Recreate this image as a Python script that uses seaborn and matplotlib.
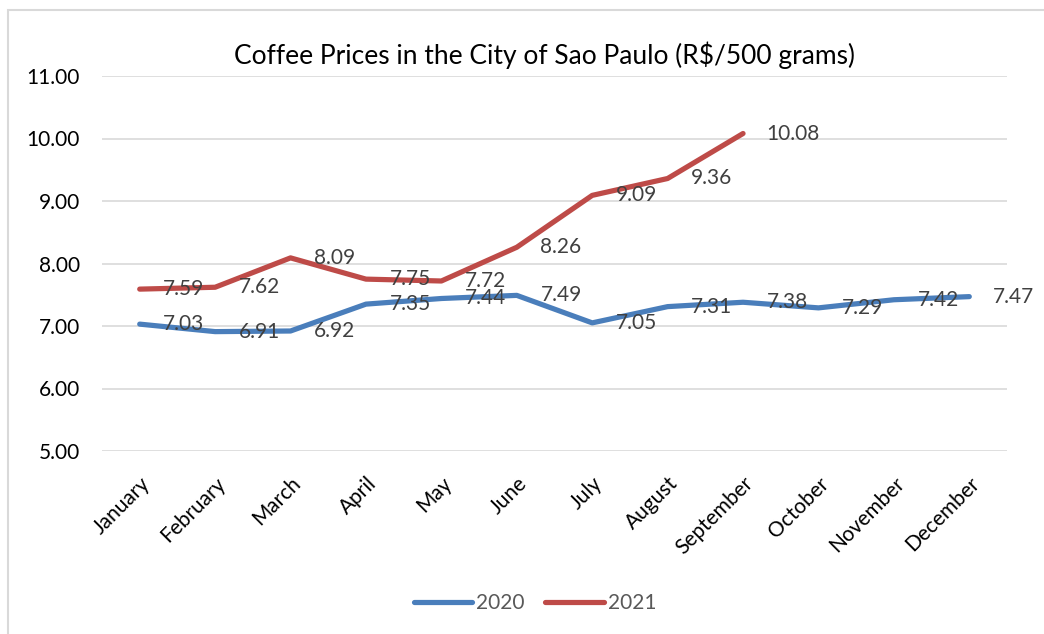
import pandas as pd
import matplotlib.pyplot as plt
import seaborn as sns
from matplotlib.patches import Rectangle

# values
months = ["January", "February", "March", "April", "May", "June", "July",
          "August", "September", "October", "November", "December"]
prices_2020 = [7.03, 6.91, 6.92, 7.35, 7.44, 7.49, 7.05, 7.31, 7.38, 7.29, 7.42, 7.47]
prices_2021 = [7.59, 7.62, 8.09, 7.75, 7.72, 8.26, 9.09, 9.36, 10.08]
years = ["2020", "2021"]
colors = {"2020": "#4A7EBB", "2021": "#BE4B48"}

df = pd.concat([
    pd.DataFrame({"month": months, "price": prices_2020, "year": "2020"}),
    pd.DataFrame({"month": months[:len(prices_2021)], "price": prices_2021, "year": "2021"}),
], ignore_index=True)

sns.set_style("white")
plt.rcParams["font.family"] = ["Lato", "DejaVu Sans"]

W, H = 1044, 634
fig = plt.figure(figsize=(W / 100, H / 100), dpi=100)
ax = fig.add_axes([102 / W, 1 - 451 / H, (1007 - 102) / W, (451 - 76) / H])

sns.lineplot(data=df, x="month", y="price", hue="year", palette=colors,
             sort=False, linewidth=3.75, solid_capstyle="round", legend=False, ax=ax)

# data labels to the right of each point
for _, row in df.iterrows():
    ax.annotate(f"{row.price:.2f}", (row.month, row.price), xytext=(17, 0),
                textcoords="offset points", ha="left", va="center",
                fontsize=15, color="#404040")

ax.set_xlim(-0.5, len(months) - 0.5)
ax.set_ylim(5, 11)
ax.set_yticks([5, 6, 7, 8, 9, 10, 11])
ax.set_yticklabels([f"{v:.2f}" for v in [5, 6, 7, 8, 9, 10, 11]])
ax.yaxis.grid(True, color="#D9D9D9", linewidth=1.2)
ax.set_axisbelow(True)
for s in ax.spines.values():
    s.set_visible(False)
ax.set_xlabel("")
ax.set_ylabel("")
ax.tick_params(axis="y", length=0, pad=16, labelsize=15, labelcolor="#000000")
ax.tick_params(axis="x", length=0, pad=16, labelsize=15, labelcolor="#000000")
plt.setp(ax.get_xticklabels(), rotation=45, ha="right", rotation_mode="anchor")

fig.text(545 / W, 1 - 55 / H, "Coffee Prices in the City of Sao Paulo (R$/500 grams)",
         ha="center", va="center", fontsize=19, color="#000000")

handles = [plt.Line2D([], [], color=colors[y], lw=3.75, solid_capstyle="round") for y in years]
fig.legend(handles, years, loc="center", bbox_to_anchor=(535 / W, 1 - 603 / H), ncol=2,
           frameon=False, fontsize=15, labelcolor="#595959", handlelength=2.8,
           handletextpad=0.2, columnspacing=1.0)

fig.patches.append(Rectangle((8 / W, -0.05), 1.2, 1.05 - 10 / H, transform=fig.transFigure,
                             fill=False, edgecolor="#D9D9D9", linewidth=1.5))

plt.savefig("out.png", dpi=100)
plt.close()
